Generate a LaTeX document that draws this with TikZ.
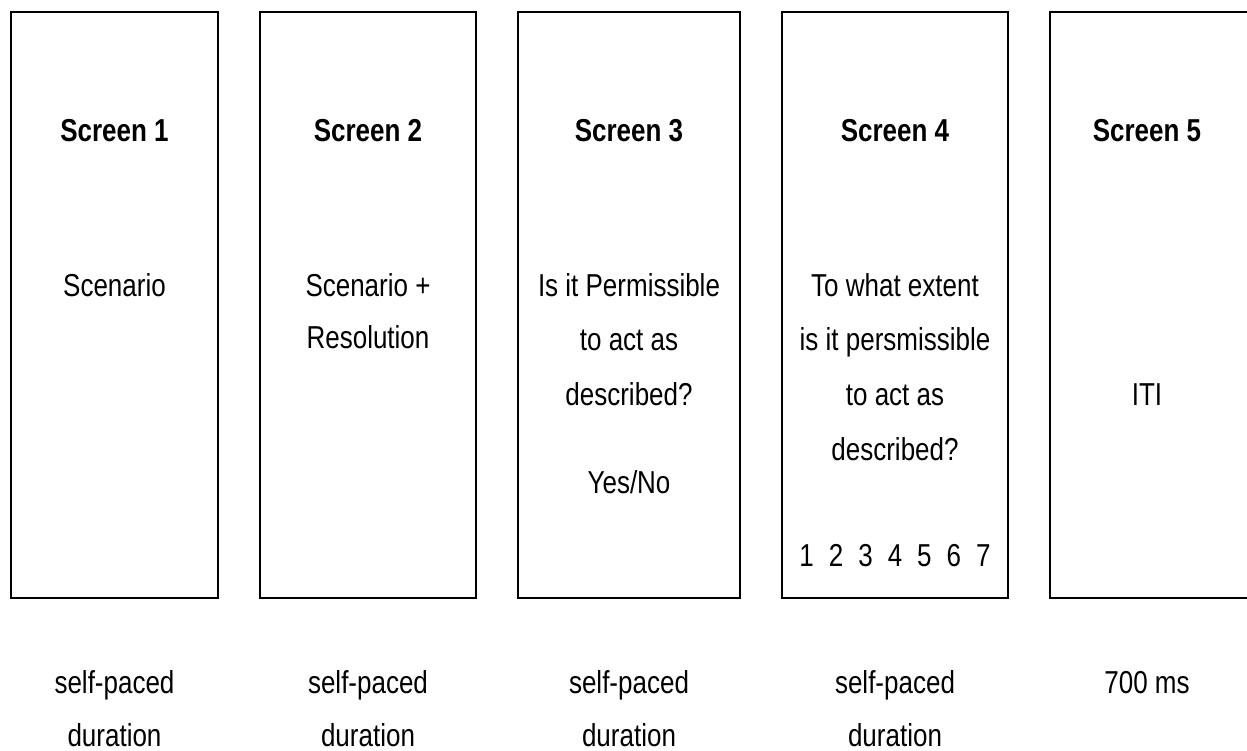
\documentclass[tikz,border=0pt]{standalone}
\usepackage{fontspec}
\setmainfont{Liberation Sans}[FakeStretch=0.82]
\begin{document}
\begin{tikzpicture}[x=1pt,y=-1pt,
  screenbox/.style={draw=black,line width=2.5pt,inner sep=0pt,outer sep=0pt},
  txt/.style={anchor=base,inner sep=0pt,font=\fontsize{31.7}{38}\selectfont},
  title/.style={txt,font=\fontsize{31.7}{38}\selectfont\bfseries}]
\useasboundingbox (0,0) rectangle (1247,751);
% screens
\node[screenbox,minimum width=207pt,minimum height=586pt] (s1) at (114.5,305) {};
\node[screenbox,minimum width=216pt,minimum height=586pt] (s2) at (368,305) {};
\node[screenbox,minimum width=222pt,minimum height=586pt] (s3) at (629,305) {};
\node[screenbox,minimum width=226pt,minimum height=586pt] (s4) at (895,305) {};
\coordinate (s5tr) at (1250,12);
\coordinate (s5tl) at (1050,12);
\coordinate (s5bl) at (1050,598);
\coordinate (s5br) at (1250,598);
\draw[line width=2.5pt] (s5tr) -- (s5tl) -- (s5bl) -- (s5br);
% titles
\node[title] (h1) at (114.5,142) {Screen 1};
\node[title] (h2) at (368,142) {Screen 2};
\node[title] (h3) at (629,142) {Screen 3};
\node[title] (h4) at (895,142) {Screen 4};
\node[title] (h5) at (1147,142) {Screen 5};
% contents
\node[txt] (c1) at (114.5,296) {Scenario};
\node[txt] (c2a) at (368,296) {Scenario +};
\node[txt] (c2b) at (368,348) {Resolution};
\node[txt] (c3a) at (629,296) {Is it Permissible};
\node[txt] (c3b) at (629,350) {to act as};
\node[txt] (c3c) at (629,405) {described?};
\node[txt] (c3d) at (629,493) {Yes/No};
\node[txt] (c4a) at (895,296) {To what extent};
\node[txt] (c4b) at (895,350) {is it persmissible};
\node[txt] (c4c) at (895,405) {to act as};
\node[txt] (c4d) at (895,460) {described?};
\node[txt] (c4e) at (895,566) {1\hspace{15pt}2\hspace{15pt}3\hspace{15pt}4\hspace{15pt}5\hspace{15pt}6\hspace{15pt}7};
\node[txt] (c5) at (1147,405) {ITI};
% durations
\node[txt] (d1a) at (114.5,693) {self-paced};
\node[txt] (d1b) at (114.5,746) {duration};
\node[txt] (d2a) at (368,693) {self-paced};
\node[txt] (d2b) at (368,746) {duration};
\node[txt] (d3a) at (629,693) {self-paced};
\node[txt] (d3b) at (629,746) {duration};
\node[txt] (d4a) at (895,693) {self-paced};
\node[txt] (d4b) at (895,746) {duration};
\node[txt] (d5) at (1147,693) {700 ms};
\end{tikzpicture}
\end{document}
